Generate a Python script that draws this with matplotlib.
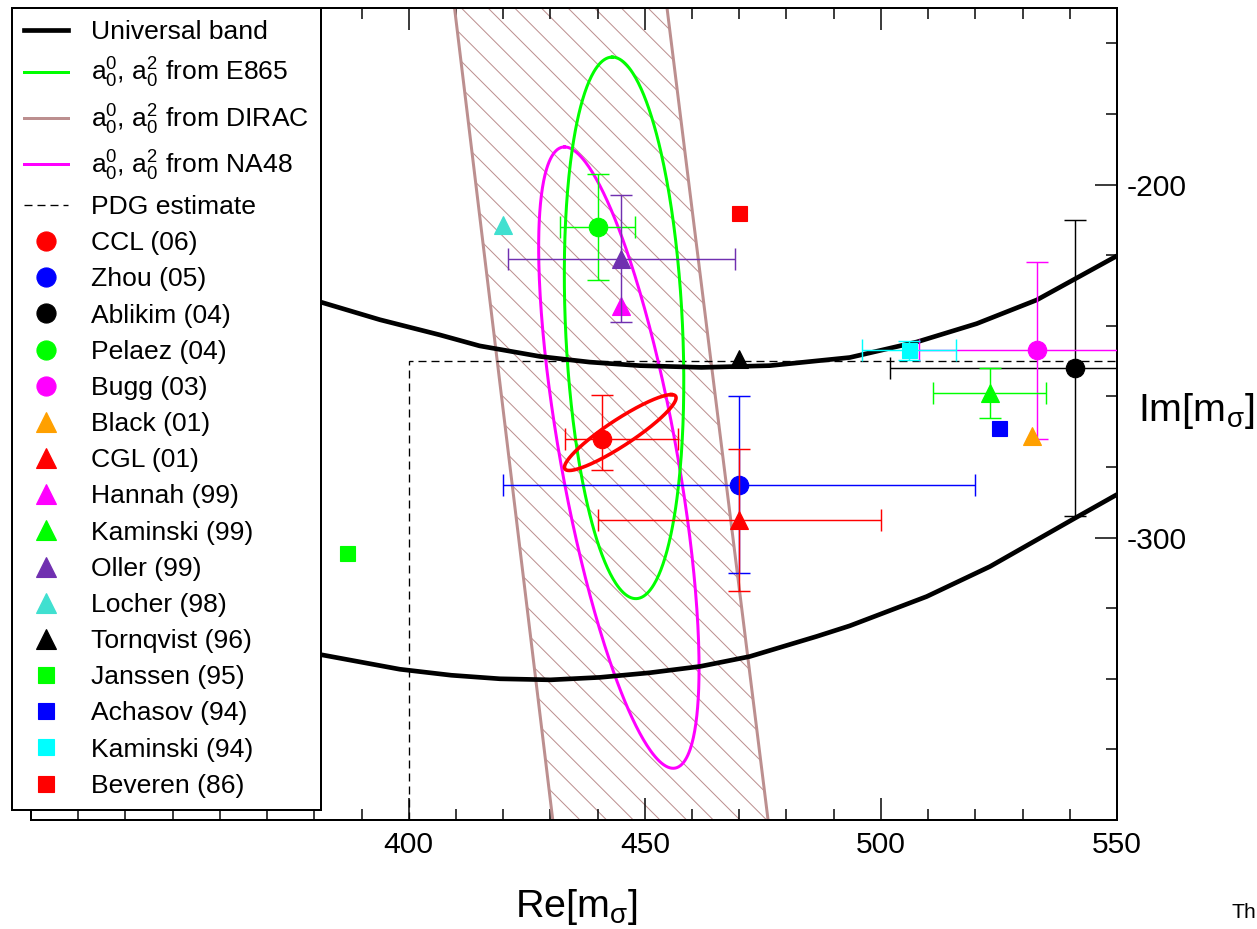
import numpy as np
import matplotlib
matplotlib.use("Agg")
import matplotlib.pyplot as plt
from matplotlib.lines import Line2D
from matplotlib.patches import Rectangle
from matplotlib.ticker import FixedLocator

plt.rcParams['font.family'] = ['Liberation Sans', 'DejaVu Sans']
plt.rcParams['mathtext.fontset'] = 'custom'
plt.rcParams['mathtext.rm'] = 'Liberation Sans'
plt.rcParams['mathtext.it'] = 'Liberation Sans:italic'
plt.rcParams['mathtext.bf'] = 'Liberation Sans:bold'
plt.rcParams['mathtext.default'] = 'regular'
plt.rcParams['axes.unicode_minus'] = False
plt.rcParams['hatch.linewidth'] = 0.9

# ---------------- data ----------------
# Universal band (two curves)
univ_upper_re = [372, 381.1, 393.9, 406.6, 415.0, 427.8, 438.3, 448.9, 462.0, 476.5, 493.4, 507.6, 520.3, 533.0, 550.0]
univ_upper_im = [-229.5, -233.2, -238.3, -242.6, -245.7, -248.7, -250.3, -251.3, -251.8, -251.3, -249.0, -244.6, -239.4, -232.7, -220.2]
univ_lower_re = [372, 381.1, 398.1, 409.0, 419.3, 430.0, 440.5, 451.0, 461.7, 472.2, 486.4, 493.4, 509.7, 523.1, 540.7, 550.0]
univ_lower_im = [-331.0, -333.1, -337.3, -339.0, -340.0, -340.3, -339.6, -338.3, -336.5, -333.7, -328.0, -325.0, -316.7, -308.2, -294.8, -287.8]

# DIRAC band edges
dirac_im = [-150, -380]
dirac_left = [409.7, 430.5]
dirac_right = [454.7, 476.1]

# PDG estimate box
pdg_re = [400, 1200]
pdg_im = [-250, -500]

# Ellipses: centre (re, im), re-coefficients (cos, sin), im half-height
e865_centre = (445.6, -240.6); e865_re_coef = (-2.5, 12.4); e865_im_half = 76.7
na48_centre = (444.5, -277.35); na48_re_coef = (-11.5, 12.5); na48_im_half = 88.0
ccl_centre = (444.8, -270.25); ccl_re_coef = (10.8, 4.8); ccl_im_half = 10.75

# Points
names = ['CCL (06)', 'Zhou (05)', 'Ablikim (04)', 'Pelaez (04)', 'Bugg (03)', 'Black (01)',
         'CGL (01)', 'Hannah (99)', 'Kaminski (99)', 'Oller (99)', 'Locher (98)',
         'Tornqvist (96)', 'Janssen (95)', 'Achasov (94)', 'Kaminski (94)', 'Beveren (86)']
re_vals = [441, 470, 541, 440, 533, 532, 470, 445, 523, 445, 420, 470, 387, 525, 506, 470]
im_vals = [-272, -285, -252, -212, -247, -271.3, -295, -234.4, -259, -221, -211.4, -249.3, -304.5, -269, -247, -208.1]
re_err_lo = [8, 50, 39, 8, 25, 0, 30, 0, 12, 24, 0, 0, 0, 0, 10, 0]
re_err_hi = [16, 50, 39, 8, 25, 0, 30, 0, 12, 24, 0, 0, 0, 0, 10, 0]
im_err_lo = [9, 25, 42, 15, 25, 0, 20, 0, 7, 18, 0, 0, 0, 0, 2.7, 0]
im_err_hi = [12.5, 25, 42, 15, 25, 0, 20, 0, 7, 18, 0, 0, 0, 0, 2.7, 0]
markers = ['o', 'o', 'o', 'o', 'o', '^', '^', '^', '^', '^', '^', '^', 's', 's', 's', 's']
colors = ['#ff0000', '#0000ff', '#000000', '#00ff00', '#ff00ff', '#ffa000', '#ff0000', '#ff00ff',
          '#00ff00', '#7030b0', '#40e0d0', '#000000', '#00ff00', '#0000ff', '#00ffff', '#ff0000']

dirac_color = '#bc8f8f'
msize = {'o': 16.6, '^': 17.0, 's': 13.5}

# ---------------- figure ----------------
W, H, DPI = 1257, 929, 80
fig = plt.figure(figsize=(W / DPI, H / DPI), dpi=DPI)
ax = fig.add_axes([31 / W, 1 - 820 / H, (1117 - 31) / W, (820 - 8) / H])
ax.set_xlim(320, 550)
ax.set_ylim(-380, -150)

# DIRAC hatched band
ax.fill_betweenx(dirac_im, dirac_left, dirac_right, facecolor='none',
                 edgecolor=dirac_color, hatch='\\', linewidth=0, zorder=1)
ax.plot(dirac_left, dirac_im, color=dirac_color, lw=2.7, zorder=2)
ax.plot(dirac_right, dirac_im, color=dirac_color, lw=2.7, zorder=2)

# PDG box
ax.add_patch(Rectangle((pdg_re[0], pdg_im[1]), pdg_re[1] - pdg_re[0], pdg_im[0] - pdg_im[1],
                       fill=False, edgecolor='black', lw=1.2, ls=(0, (6, 3.75)), zorder=2))

t = np.linspace(0, 2 * np.pi, 400)

def ell(centre, coef, half):
    x = centre[0] + coef[0] * np.cos(t) + coef[1] * np.sin(t)
    y = centre[1] + half * np.cos(t)
    return x, y

x, y = ell(na48_centre, na48_re_coef, na48_im_half)
ax.plot(x, y, color='#ff00ff', lw=2.7, zorder=3)
x, y = ell(e865_centre, e865_re_coef, e865_im_half)
ax.plot(x, y, color='#00ff00', lw=2.7, zorder=3)

# Universal band
ax.plot(univ_upper_re, univ_upper_im, color='black', lw=4.2, zorder=4,
        solid_capstyle='butt', solid_joinstyle='round')
ax.plot(univ_lower_re, univ_lower_im, color='black', lw=4.2, zorder=4,
        solid_capstyle='butt', solid_joinstyle='round')

# CCL ellipse
x, y = ell(ccl_centre, ccl_re_coef, ccl_im_half)
ax.plot(x, y, color='#ff0000', lw=3.2, zorder=5)

# points
for i in range(len(names)):
    z = 6 + i * 0.01
    if re_err_lo[i] or im_err_lo[i]:
        ax.errorbar([re_vals[i]], [im_vals[i]],
                    xerr=[[re_err_lo[i]], [re_err_hi[i]]] if re_err_lo[i] else None,
                    yerr=[[im_err_lo[i]], [im_err_hi[i]]] if im_err_lo[i] else None,
                    fmt='none', ecolor=colors[i], elinewidth=1.3, capsize=9.5,
                    capthick=1.3, zorder=z)
    ax.plot([re_vals[i]], [im_vals[i]], ls='none', marker=markers[i],
            ms=msize[markers[i]], color=colors[i], mec=colors[i], zorder=z + 0.005)

# ticks
for s in ax.spines.values():
    s.set_linewidth(1.8)
ax.xaxis.set_major_locator(FixedLocator([400, 450, 500, 550]))
ax.xaxis.set_minor_locator(FixedLocator(list(range(330, 551, 10))))
ax.yaxis.set_major_locator(FixedLocator([-200, -300]))
ax.yaxis.set_minor_locator(FixedLocator(list(range(-360, -149, 20))))
ax.tick_params(which='both', direction='in', bottom=True, top=True, left=False, right=True,
               labelbottom=True, labelleft=False, labelright=True, width=1.35)
ax.tick_params(which='major', length=19.8, labelsize=27)
ax.tick_params(which='minor', length=9.5)
ax.tick_params(axis='x', which='major', pad=10)
ax.tick_params(axis='y', which='major', pad=9)

# labels
fig.text(515 / W, 1 - 917 / H, r'Re[m$_{\sigma}$]', fontsize=35.5, ha='left', va='baseline')
fig.text(1138 / W, 1 - 421 / H, r'Im[m$_{\sigma}$]', fontsize=35.5, ha='left', va='baseline')
fig.text(1231 / W, 1 - 918 / H, 'Th', fontsize=19, ha='left', va='baseline')

# legend
handles = [
    Line2D([], [], color='black', lw=4.2),
    Line2D([], [], color='#00ff00', lw=2.7),
    Line2D([], [], color=dirac_color, lw=2.7),
    Line2D([], [], color='#ff00ff', lw=2.7),
    Line2D([], [], color='black', lw=1.2, ls=(0, (6, 3.75))),
]
labels = ['Universal band',
          r'$a_0^0$, $a_0^2$ from E865',
          r'$a_0^0$, $a_0^2$ from DIRAC',
          r'$a_0^0$, $a_0^2$ from NA48',
          'PDG estimate']
for i in range(len(names)):
    handles.append(Line2D([], [], ls='none', marker=markers[i], ms=msize[markers[i]] + 0.6,
                          color=colors[i], mec=colors[i]))
    labels.append(names[i])

leg = ax.legend(handles, labels, loc='upper left', bbox_to_anchor=(12 / W, 1 - 8 / H),
                bbox_transform=fig.transFigure, fontsize=23.8, frameon=True, fancybox=False,
                edgecolor='black', framealpha=1, borderpad=0.45, borderaxespad=0,
                handlelength=1.67, handletextpad=0.87, labelspacing=0.46, numpoints=1)
leg.get_frame().set_linewidth(1.8)
leg.set_zorder(100)

fig.savefig('out.png', dpi=DPI)
